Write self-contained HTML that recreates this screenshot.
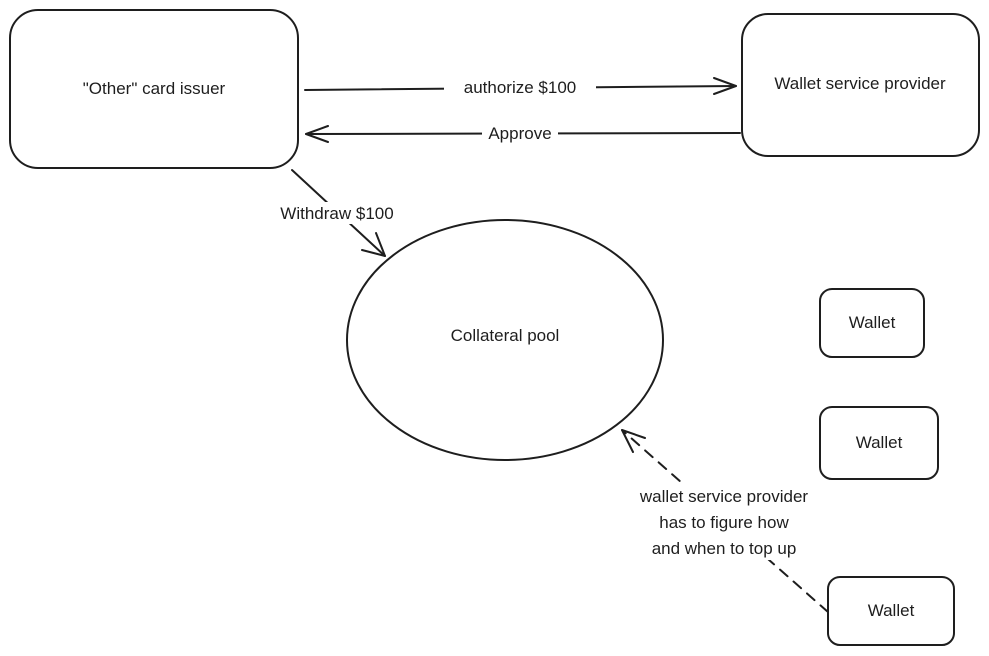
<!DOCTYPE html>
<html><head><meta charset="utf-8"><style>
html,body{margin:0;padding:0;background:#fff;}
svg{display:block;}
text{font-family:"Liberation Sans",sans-serif;font-size:17px;fill:#1e1e1e;}
</style></head><body>
<svg width="989" height="656" viewBox="0 0 989 656" xmlns="http://www.w3.org/2000/svg">
<g fill="none" stroke="#1e1e1e" stroke-width="2" stroke-linecap="round" stroke-linejoin="round">
<rect x="10" y="10" width="288" height="158" rx="28"/>
<rect x="742" y="14" width="237" height="142" rx="26"/>
<ellipse cx="505" cy="340" rx="158" ry="120"/>
<rect x="820" y="289" width="104" height="68" rx="12"/>
<rect x="820" y="407" width="118" height="72" rx="12"/>
<rect x="828" y="577" width="126" height="68" rx="12"/>
<line x1="305" y1="90" x2="736" y2="86"/>
<polyline points="714,78 736,86 714,94"/>
<line x1="740" y1="133" x2="306" y2="134"/>
<polyline points="328,126 306,134 328,142"/>
<line x1="292" y1="170" x2="385" y2="256"/>
<polyline points="362,250 385,256 376,233"/>
<line x1="828" y1="612" x2="622" y2="430" stroke-dasharray="10,8"/>
<polyline points="633,452 622,430 645,438"/>
</g>
<rect x="444" y="77" width="152" height="20" fill="#fff"/>
<rect x="482" y="123" width="76" height="20" fill="#fff"/>
<rect x="262" y="202" width="150" height="22" fill="#fff"/>
<rect x="612" y="484" width="224" height="76" fill="#fff"/>
<g text-anchor="middle">
<text x="154" y="94">"Other" card issuer</text>
<text x="860" y="89">Wallet service provider</text>
<text x="520" y="93">authorize $100</text>
<text x="520" y="139">Approve</text>
<text x="337" y="219">Withdraw $100</text>
<text x="505" y="341">Collateral pool</text>
<text x="872" y="328">Wallet</text>
<text x="879" y="448">Wallet</text>
<text x="891" y="616">Wallet</text>
<text x="724" y="502">wallet service provider</text>
<text x="724" y="528">has to figure how</text>
<text x="724" y="554">and when to top up</text>
</g>
</svg>
</body></html>
